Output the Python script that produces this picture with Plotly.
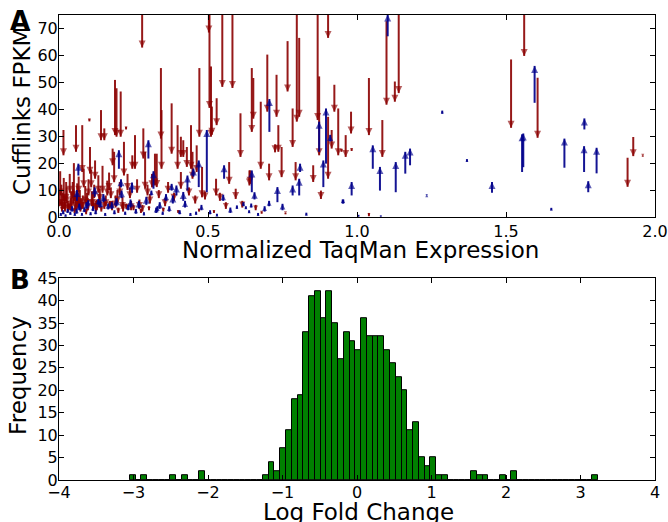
import plotly.graph_objects as go

# ---------------- Panel A data: arrows from Cufflinks FPKM (from) to corrected value (to)
# red = decreasing (downward arrows), blue = increasing (upward arrows)
red_x = [0.279, 0.503, 0.505, 0.510, 0.513, 0.529, 0.548, 0.582, 0.188, 0.193, 0.207, 0.141, 0.152,
         0.102, 0.225, 0.015, 0.057, 0.078, 0.104, 0.121, 0.180, 0.185, 0.218, 0.246, 0.255, 0.283,
         0.289, 0.342, 0.344, 0.378, 0.398, 0.409, 0.417, 0.429, 0.443, 0.448, 0.462, 0.471, 0.480,
         0.609, 0.571, 0.593, 0.527, 0.328, 0.322, 0.409, 0.639, 0.798, 0.806, 0.868, 0.873, 0.903,
         0.924, 0.937, 0.903, 0.915, 0.647, 0.652, 0.677, 0.699, 0.730, 0.767, 0.784, 0.725, 0.736,
         0.747, 0.705, 0.794, 0.853, 0.879, 0.641, 1.140, 1.099, 1.127, 1.040, 1.085, 0.980, 0.962,
         0.982, 0.948, 1.040, 1.561, 1.517, 1.606, 1.908, 1.927, 1.959,
         # dense cluster near the origin
         0.004, 0.008, 0.012, 0.016, 0.020, 0.026, 0.030, 0.036, 0.041, 0.046, 0.050, 0.055, 0.061,
         0.066, 0.070, 0.074, 0.083, 0.088, 0.094, 0.099, 0.108, 0.113, 0.118, 0.127, 0.132, 0.137,
         0.146, 0.157, 0.162, 0.168, 0.174, 0.196, 0.204, 0.213, 0.230, 0.238, 0.262, 0.270, 0.297,
         0.305, 0.312, 0.335, 0.356, 0.366, 0.386, 0.436, 0.457, 0.490, 0.540, 0.560, 0.615, 0.660,
         0.010, 0.033, 0.052, 0.072, 0.091, 0.116, 0.142, 0.171, 0.199, 0.226, 0.250, 0.275, 0.302,
         0.350, 0.400, 0.470, 0.520, 0.680, 0.760,
         0.002, 0.018, 0.024, 0.039, 0.048, 0.058, 0.064, 0.080, 0.097, 0.110, 0.124, 0.135,
         0.152, 0.178, 0.190, 0.215, 0.242, 0.280]
red_from = [90, 90, 90, 55.9, 41.0, 44.1, 90, 90, 50.9, 47.8, 46.6, 39.7, 32.9,
            36.5, 33.5, 32.3, 34.1, 34.1, 26.0, 21.0, 25.4, 24.2, 27.9, 22.9, 30.4, 32.9,
            24.2, 55.3, 39.7, 42.2, 34.1, 29.8, 28.5, 26.0, 34.1, 24.2, 26.6, 55.3, 18.6,
            38.5, 20.4, 10.5, 14.2, 23.5, 23.5, 16.7, 17.3, 90, 66.5, 90, 52.2, 90,
            49.1, 40.3, 37.2, 32.3, 55.3, 51.6, 42.8, 60.3, 52.8, 65.3, 40.3, 27.0, 34.1,
            26.0, 19.8, 20.4, 19.2, 9.8, 17.3, 90, 72.7, 50.3, 51.6, 36.0, 39.1, 30.4,
            25.5, 25.2, 1.5, 90, 58.5, 51.7, 22.0, 29.7, 22.8,
            17.0, 12.0, 9.0, 14.5, 7.5, 11.0, 6.0, 16.0, 9.5, 13.0, 20.0, 8.0, 12.5,
            15.0, 10.0, 7.0, 18.0, 11.5, 9.0, 14.0, 17.5, 8.5, 12.0, 6.5, 15.5, 10.5,
            19.0, 8.0, 13.5, 16.5, 11.0, 10.0, 13.0, 7.5, 16.0, 11.0, 14.0, 6.5, 12.0,
            8.5, 16.0, 10.0, 7.0, 13.0, 9.0, 11.0, 8.0, 9.5, 9.0, 5.5, 6.0, 4.5,
            4.0, 5.0, 3.5, 4.5, 3.0, 5.5, 4.0, 6.0, 3.5, 5.0, 4.5, 3.0, 4.0,
            3.5, 2.5, 3.0, 2.5, 2.0, 1.5,
            10.0, 8.0, 13.0, 7.0, 10.5, 6.5, 9.0, 8.0, 7.0, 9.5, 6.0, 8.5,
            7.0, 6.0, 8.0, 5.5, 6.0, 4.5]
red_to = [62.9, 68.5, 40.5, 29.8, 30.5, 34.1, 48.3, 47.9, 30.4, 29.8, 29.8, 28.5, 28.5,
          35.5, 32.5, 22.9, 24.2, 16.7, 16.1, 14.2, 19.2, 12.9, 15.4, 17.9, 17.9, 21.7,
          10.5, 29.1, 17.9, 23.5, 17.9, 22.3, 22.3, 18.6, 17.9, 14.2, 16.7, 29.8, 7.3,
          22.3, 12.3, 6.7, 8.0, 11.1, 11.7, 10.5, 11.7, 35.4, 37.2, 36.0, 22.9, 66.5,
          39.1, 22.9, 14.2, 25.4, 31.6, 36.5, 17.9, 39.1, 37.2, 46.6, 26.0, 24.0, 24.2,
          14.8, 13.6, 13.6, 13.0, 6.7, 12.3, 46.0, 41.7, 42.8, 30.4, 22.3, 31.0, 22.3,
          24.5, 24.2, 0.3, 59.8, 33.1, 29.4, 11.2, 22.6, 22.4,
          8.0, 4.0, 3.0, 6.0, 2.0, 5.0, 2.0, 9.0, 3.5, 7.0, 6.0, 3.0, 5.0,
          9.0, 4.0, 3.0, 11.0, 5.0, 4.0, 8.0, 11.0, 4.0, 7.0, 2.5, 9.0, 6.0,
          9.0, 4.0, 8.0, 10.0, 7.0, 5.0, 8.0, 3.0, 10.0, 7.0, 9.0, 3.0, 8.0,
          5.0, 11.0, 7.0, 4.0, 9.0, 6.0, 8.0, 5.0, 6.5, 6.0, 3.0, 3.5, 2.5,
          2.0, 2.5, 1.5, 2.0, 1.0, 3.0, 2.0, 3.5, 1.5, 3.0, 2.5, 1.5, 2.5,
          2.0, 1.5, 2.0, 1.5, 1.2, 1.0,
          4.0, 3.0, 6.0, 2.5, 5.0, 2.0, 3.5, 3.0, 2.5, 4.0, 2.0, 3.5,
          3.0, 2.5, 3.5, 2.0, 2.5, 2.0]

blue_x = [0.065, 0.201, 0.300, 0.149, 0.177, 0.132, 0.098, 0.210, 0.208, 0.245, 0.310, 0.496,
          0.554, 0.469, 0.431, 0.317, 0.378, 0.359, 0.394, 0.417, 0.451, 0.619, 0.597, 0.551,
          0.706, 0.896, 0.887, 0.873, 0.910, 0.809, 0.806, 0.784, 0.733, 0.647, 0.656, 0.645,
          0.638, 0.705, 0.750, 0.952, 0.627, 1.103, 1.053, 1.077, 1.130, 1.162, 1.178, 0.982,
          0.954, 1.596, 1.554, 1.558, 1.696, 1.763, 1.762, 1.804, 1.776, 1.453, 1.286, 1.369,
          1.652, 1.234,
          # dense cluster near the origin
          0.006, 0.014, 0.022, 0.029, 0.038, 0.044, 0.053, 0.059, 0.068, 0.077, 0.085, 0.092,
          0.106, 0.114, 0.123, 0.139, 0.155, 0.165, 0.186, 0.193, 0.222, 0.232, 0.258, 0.268,
          0.285, 0.293, 0.326, 0.338, 0.348, 0.370, 0.382, 0.405, 0.423, 0.441, 0.478, 0.507,
          0.530, 0.575, 0.668, 0.690, 0.830, 1.080, 1.005, 0.060, 0.120, 0.240, 0.330, 0.460]
blue_from = [15.4, 17.9, 21.7, 5.5, 3.0, 4.5, 4.0, 7.0, 11.0, 9.0, 8.0, 9.2,
             14.2, 11.1, 9.8, 10.5, 9.8, 6.0, 8.0, 6.0, 15.0, 4.0, 3.0, 6.0,
             31.6, 19.8, 11.1, 24.2, 28.0, 16.7, 8.0, 8.0, 5.5, 9.2, 6.5, 3.5,
             1.5, 4.0, 2.5, 5.0, 3.0, 67.1, 17.9, 9.8, 9.2, 16.1, 19.2, 8.0,
             5.0, 42.4, 16.7, 18.5, 18.3, 32.5, 16.7, 16.2, 9.2, 9.0, 38.3, 20.5,
             2.5, 8.1,
             0.5, 1.0, 0.3, 1.5, 0.8, 2.0, 0.5, 1.2, 2.5, 0.6, 1.8, 3.0,
             0.7, 2.2, 1.0, 3.5, 0.5, 2.8, 1.0, 4.0, 0.8, 2.5, 1.2, 3.2,
             0.6, 4.5, 1.5, 3.0, 0.8, 2.0, 5.0, 1.0, 3.5, 0.5, 2.5, 1.0,
             0.4, 1.5, 0.5, 2.0, 0.6, 0.2, 0.3, 6.0, 7.5, 3.5, 2.0, 0.8]
blue_to = [19.8, 24.8, 28.5, 8.5, 5.5, 6.7, 6.2, 9.8, 14.0, 12.8, 9.8, 32.3,
           19.2, 21.0, 15.4, 17.0, 12.3, 8.5, 11.7, 9.3, 18.0, 5.5, 4.3, 8.3,
           43.8, 40.3, 21.0, 35.4, 30.5, 19.8, 14.2, 11.7, 11.1, 17.3, 9.2, 5.0,
           2.5, 6.0, 4.9, 6.5, 4.0, 75.2, 26.6, 18.6, 20.4, 24.2, 25.4, 13.0,
           6.5, 56.1, 30.7, 31.0, 29.1, 36.6, 26.3, 25.7, 13.3, 13.0, 39.5, 21.5,
           3.4, 8.4,
           1.5, 2.5, 1.0, 3.0, 2.0, 4.0, 1.5, 3.0, 5.0, 1.5, 3.5, 5.5,
           1.8, 4.0, 2.5, 6.0, 1.5, 5.0, 2.5, 7.0, 2.0, 4.5, 3.0, 6.0,
           1.8, 7.5, 3.5, 5.5, 2.0, 4.0, 8.0, 2.5, 6.0, 1.5, 4.5, 2.5,
           1.2, 3.5, 1.5, 4.0, 1.6, 0.6, 0.8, 10.0, 11.0, 6.5, 4.0, 2.0]

xticks_a = [0.0, 0.5, 1.0, 1.5, 2.0]
yticks_a = [0, 10, 20, 30, 40, 50, 60, 70]

# ---------------- Panel B data: histogram of log fold change
bin_start = -3.049
bin_width = 0.0776
counts = [1, 0, 1, 0, 0, 0, 0, 1, 0, 1, 0, 0, 2, 0, 0, 0, 0, 0, 0, 0, 0, 0, 0,
          1, 4, 2, 7, 11, 18, 19, 33, 41, 42, 36, 42, 35, 27, 33, 31, 29, 36, 32, 32, 32,
          29, 26, 23, 20, 11, 13, 5, 3, 5, 1, 1, 0, 0, 0, 0, 2, 1, 1, 0, 0, 1, 0, 2,
          0, 0, 0, 0, 0, 0, 0, 0, 0, 0, 0, 0, 0, 1]
xticks_b = [-4, -3, -2, -1, 0, 1, 2, 3, 4]
yticks_b = [0, 5, 10, 15, 20, 25, 30, 35, 40, 45]

RED = "rgba(139,0,0,0.9)"
BLUE = "rgba(0,0,139,0.92)"
FONT = "DejaVu Sans"
PX_PER_UNIT = 2.686  # approx pixels per FPKM unit on panel A


def arrow_traces(xs, y0s, y1s, color, up):
    lx, ly = [], []
    for x, a, b in zip(xs, y0s, y1s):
        lx += [x, x, None]
        ly += [a, b, None]
    sizes = [max(3, min(7, abs(b - a) * PX_PER_UNIT * 0.9)) for a, b in zip(y0s, y1s)]
    shafts = go.Scatter(x=lx, y=ly, mode="lines", line=dict(color=color, width=2),
                        hoverinfo="skip", showlegend=False, xaxis="x", yaxis="y")
    heads = go.Scatter(x=xs, y=y1s, mode="markers",
                       marker=dict(symbol="arrow-up" if up else "arrow-down", size=sizes,
                                   color=color, line=dict(width=0)),
                       showlegend=False, xaxis="x", yaxis="y")
    return [shafts, heads]


fig = go.Figure()
for t in arrow_traces(red_x, red_from, red_to, RED, False):
    fig.add_trace(t)
for t in arrow_traces(blue_x, blue_from, blue_to, BLUE, True):
    fig.add_trace(t)

centers = [bin_start + (i + 0.5) * bin_width for i in range(len(counts))]
fig.add_trace(go.Bar(x=centers, y=counts, width=bin_width, xaxis="x2", yaxis="y2",
                     marker=dict(color="#008000", line=dict(color="black", width=1)),
                     showlegend=False))

axis_common = dict(showline=True, linecolor="black", linewidth=1, mirror="ticks",
                   ticks="inside", ticklen=5, tickcolor="black", showgrid=False,
                   zeroline=False, automargin=False,
                   tickfont=dict(family=FONT, size=16, color="black"))


def label(text, x, y, angle=0, xanchor="center", yanchor="middle", size=23, bold=False):
    return dict(text=f"<b>{text}</b>" if bold else text, xref="paper", yref="paper",
                x=x, y=y, xanchor=xanchor, yanchor=yanchor, textangle=angle,
                showarrow=False, font=dict(family=FONT, size=size, color="black"))


fig.update_layout(
    width=668, height=522,
    margin=dict(l=59, r=13, t=15, b=42),
    paper_bgcolor="white", plot_bgcolor="white",
    font=dict(family=FONT, color="black"),
    bargap=0,
    xaxis=dict(domain=[0, 1], anchor="y", range=[0, 2], tickvals=xticks_a,
               ticktext=[f"{v:.1f}" for v in xticks_a], **axis_common),
    yaxis=dict(domain=[0.5656, 1], anchor="x", range=[0, 75], tickvals=yticks_a,
               ticklabelstandoff=-3, **axis_common),
    xaxis2=dict(domain=[0, 1], anchor="y2", range=[-4, 4], tickvals=xticks_b,
                ticklabelstandoff=-2, **axis_common),
    yaxis2=dict(domain=[0, 0.434], anchor="x2", range=[0, 45], tickvals=yticks_b,
                ticklabelstandoff=-3, **axis_common),
    annotations=[
        label("Normalized TaqMan Expression", 0.506, 0.526, yanchor="top"),
        label("Cufflinks FPKM", -0.062, 0.7935, angle=-90),
        label("Log Fold Change", 0.503, -0.037, yanchor="top"),
        label("Frequency", -0.069, 0.2258, angle=-90),
        label("A", -0.085, 1.023, xanchor="left", yanchor="top", size=26, bold=True),
        label("B", -0.085, 0.466, xanchor="left", yanchor="top", size=26, bold=True),
    ],
)

fig.write_html("out.html")
